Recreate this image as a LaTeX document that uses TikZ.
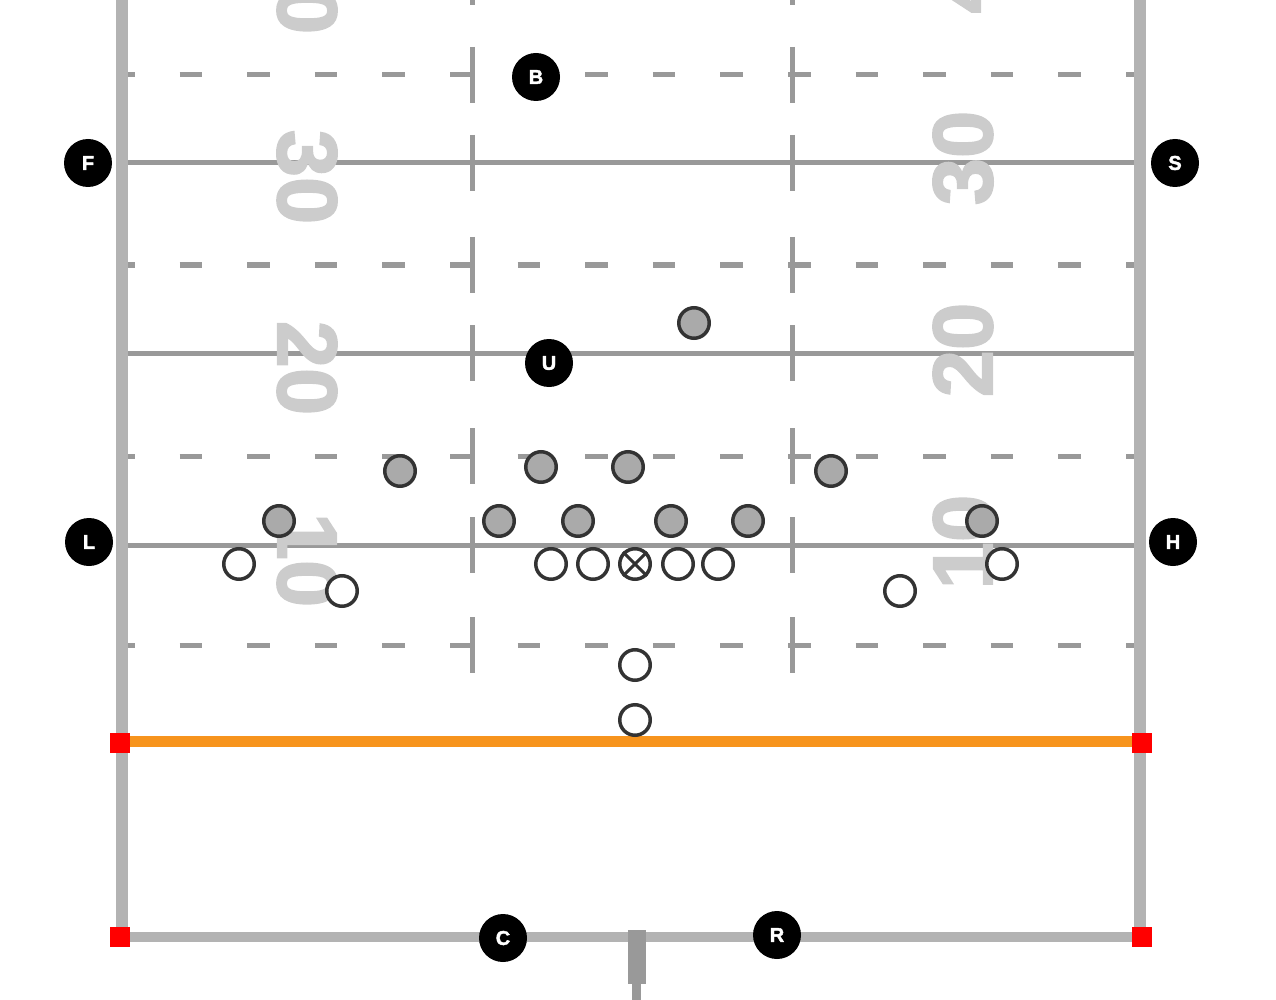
\documentclass[tikz,border=0pt]{standalone}
\usepackage{fontspec}
\setmainfont{Liberation Sans}
\newfontfamily\heavyfont[FakeBold=2]{Liberation Sans Bold}

\definecolor{fieldline}{HTML}{999999}
\definecolor{sideline}{HTML}{B3B3B3}
\definecolor{yardnum}{HTML}{CCCCCC}
\definecolor{goalline}{HTML}{F7941D}
\definecolor{pylon}{HTML}{FF0000}
\definecolor{plyrfill}{HTML}{AAAAAA}
\definecolor{plyrline}{HTML}{333333}

\begin{document}
\begin{tikzpicture}[x=1pt, y=-1pt]
		\tikzset{ref/.style={circle, fill=black, inner sep=0pt, minimum size=48pt, text=white, font=\fontsize{20}{20}\heavyfont}};
		\tikzset{def/.style={circle, draw=plyrline, fill=plyrfill, line width=3.5pt, inner sep=0pt, minimum size=30.5pt}};
		\tikzset{off/.style={circle, draw=plyrline, fill=white, line width=3.5pt, inner sep=0pt, minimum size=30.5pt}};
		\tikzset{num/.style={text=yardnum, inner sep=0pt, font=\fontsize{85}{85}\heavyfont}};
		\tikzset{pyl/.style={fill=pylon, inner sep=0pt, minimum size=20pt}};

		\useasboundingbox (0,0) rectangle (1276,1000);
		\clip (0,0) rectangle (1276,1000);

		\foreach \y in {163,353,545}
			\draw[fieldline, line width=5pt] (128,\y) -- (1134,\y);
		\foreach \y in {75,265,456,645}
			\draw[fieldline, line width=5pt, dash pattern=on 22.5pt off 45.1pt, dash phase=16pt] (128,\y) -- (1134,\y);
		\foreach \y in {-23,75,163,265,353,456,545,645} {
			\draw[fieldline, line width=5pt] (472,\y-28) -- (472,\y+28);
			\draw[fieldline, line width=5pt] (792,\y-28) -- (792,\y+28);
		}

		\node[num, rotate=-90] (l40) at (307,-13) {40};
		\node[num, rotate=-90] (l30) at (307,177) {30};
		\node[num, rotate=-90] (l20) at (307,368) {20};
		\node[num, rotate=-90] (l10) at (307,560) {10};
		\node[num, rotate=90] (r40) at (963,-34) {40};
		\node[num, rotate=90] (r30) at (963,158) {30};
		\node[num, rotate=90] (r20) at (963,350) {20};
		\node[num, rotate=90] (r10) at (963,542) {10};

		\draw[sideline, line width=12pt] (122,0) -- (122,937);
		\draw[sideline, line width=12pt] (1140,0) -- (1140,937);
		\draw[sideline, line width=10pt] (122,937) -- (1140,937);
		\draw[goalline, line width=11pt] (122,741) -- (1140,741);

		\fill[fieldline] (628,930) rectangle (646,984);
		\fill[fieldline] (632,984) rectangle (641,1000);

		\node[pyl] (p1) at (120,743) {};
		\node[pyl] (p2) at (1142,743) {};
		\node[pyl] (p3) at (120,937) {};
		\node[pyl] (p4) at (1142,937) {};

		\node[ref] (b) at (536,77) {B};
		\node[ref] (f) at (88,163) {F};
		\node[ref] (s) at (1175,163) {S};
		\node[ref] (u) at (549,363) {U};
		\node[ref] (l) at (89,542) {L};
		\node[ref] (h) at (1173,542) {H};
		\node[ref] (c) at (503,938) {C};
		\node[ref] (r) at (777,935) {R};

		\node[def] (d1) at (694,323) {};
		\node[def] (d2) at (400,471) {};
		\node[def] (d3) at (541,467) {};
		\node[def] (d4) at (628,467) {};
		\node[def] (d5) at (831,471) {};
		\node[def] (d6) at (279,521) {};
		\node[def] (d7) at (499,521) {};
		\node[def] (d8) at (578,521) {};
		\node[def] (d9) at (671,521) {};
		\node[def] (d10) at (748,521) {};
		\node[def] (d11) at (982,521) {};

		\node[off] (o1) at (239,564) {};
		\node[off] (o2) at (342,591) {};
		\node[off] (o3) at (551,564) {};
		\node[off] (o4) at (593,564) {};
		\node[off] (ctr) at (635,564) {};
		\node[off] (o6) at (678,564) {};
		\node[off] (o7) at (718,564) {};
		\node[off] (o8) at (900,591) {};
		\node[off] (o9) at (1002,564) {};
		\node[off] (o10) at (635,665) {};
		\node[off] (o11) at (635,720) {};

		\draw[plyrline, line width=3pt] (ctr.north west) -- (ctr.south east);
		\draw[plyrline, line width=3pt] (ctr.north east) -- (ctr.south west);
	\end{tikzpicture}
\end{document}
